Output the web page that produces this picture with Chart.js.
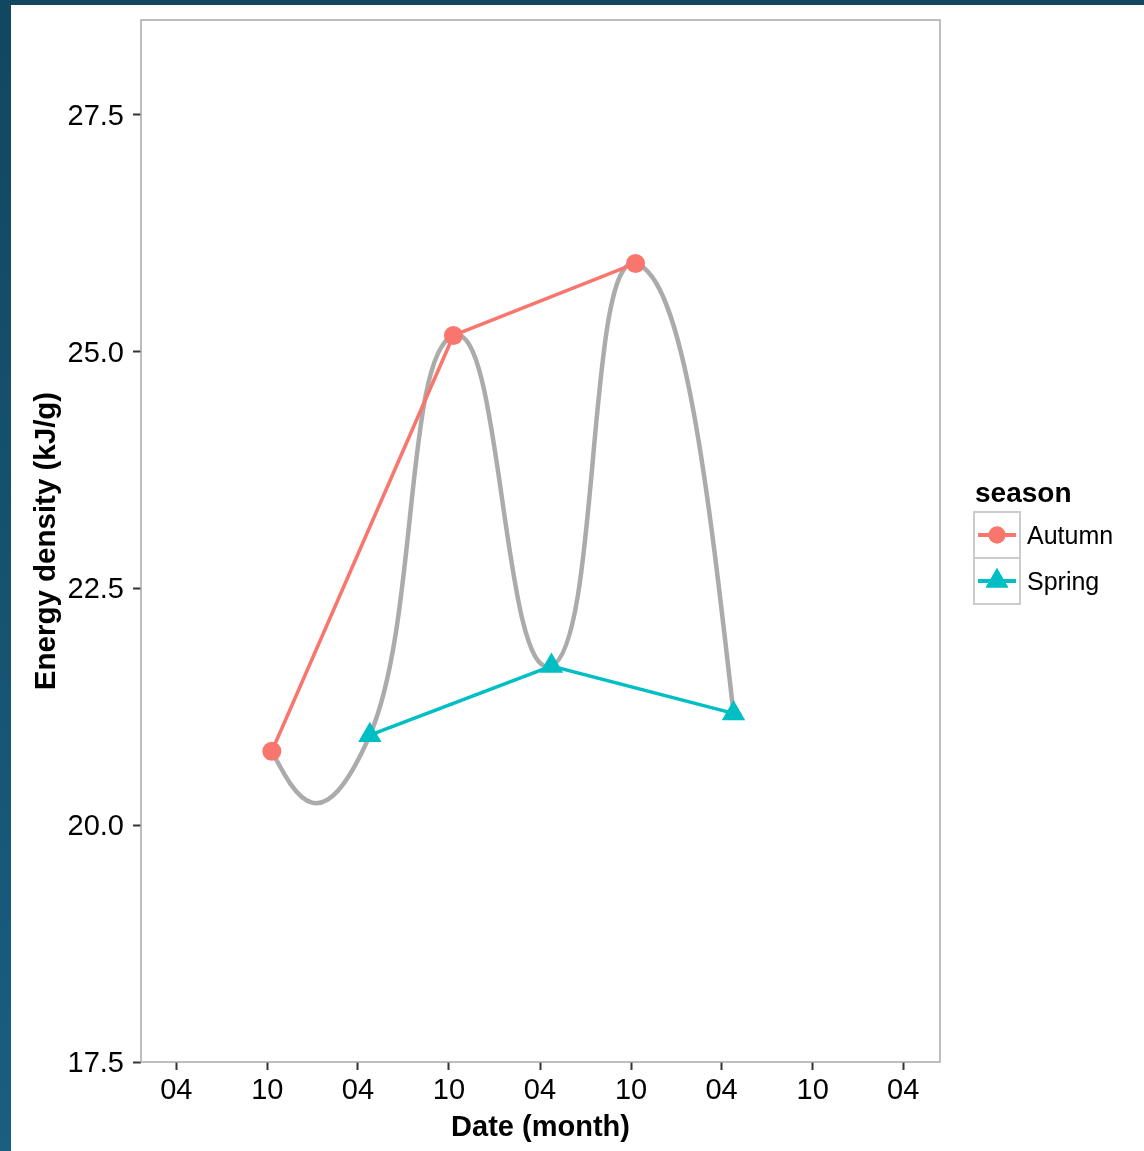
<!DOCTYPE html>
<html>
<head>
<meta charset="utf-8">
<title>Energy density by season</title>
<script src="https://cdn.jsdelivr.net/npm/chart.js@4.4.0/dist/chart.umd.min.js"></script>
<style>
  html, body { margin: 0; padding: 0; background: #ffffff; }
  #wrap { position: relative; width: 1144px; height: 1151px; overflow: hidden; background: #ffffff; }
  #frameTop { position: absolute; left: 0; top: 0; width: 1144px; height: 5px; background: #114760; }
  #frameSide { position: absolute; left: 0; top: 0; width: 11px; height: 1151px; background: linear-gradient(#114760, #1a5e80); }
  #chart { position: absolute; left: 0; top: 0; }
</style>
</head>
<body>
<div id="wrap">
  <div id="frameTop"></div>
  <div id="frameSide"></div>
  <canvas id="chart" width="1144" height="1151"></canvas>
</div>
<script>
// Sampling dates and energy density (kJ/g) per season
const autumnDates  = ['2010-10-10', '2011-10-10', '2012-10-10'];
const autumnValues = [20.78, 25.17, 25.93];
const springDates  = ['2011-04-25', '2012-04-24', '2013-04-25'];
const springValues = [20.95, 21.68, 21.18];

// Axis ticks
const xTickDates  = ['2010-04-01', '2010-10-01', '2011-04-01', '2011-10-01', '2012-04-01',
                     '2012-10-01', '2013-04-01', '2013-10-01', '2014-04-01'];
const xTickLabels = ['04', '10', '04', '10', '04', '10', '04', '10', '04'];
const yTickValues = [17.5, 20, 22.5, 25, 27.5];
const yTickLabels = ['17.5', '20.0', '22.5', '25.0', '27.5'];

const xLimits = ['2010-01-20', '2014-06-14'];
const yLimits = [17.5, 28.5];

const AUTUMN = '#F8766D';
const SPRING = '#00BFC4';
const FONT = '"Liberation Sans", Arial, sans-serif';

const dayNum = s => Date.parse(s + 'T00:00:00Z') / 86400000;
const toPoints = (dates, vals) => dates.map((d, i) => ({ x: dayNum(d), y: vals[i] }));

// Grey smooth path through all observations in date order:
// cardinal spline (interior tangents from neighbours, free ends) drawn as Bezier segments
const CURVE_TENSION = 0.8;
const smoothCurve = {
  id: 'smoothCurve',
  beforeDatasetsDraw(chart) {
    const xs = chart.scales.x, ys = chart.scales.y;
    const pts = toPoints(autumnDates, autumnValues).concat(toPoints(springDates, springValues))
      .sort((a, b) => a.x - b.x)
      .map(p => ({ x: xs.getPixelForValue(p.x), y: ys.getPixelForValue(p.y) }));
    const n = pts.length;
    const m = new Array(n);
    for (let i = 1; i < n - 1; i++) {
      m[i] = { x: CURVE_TENSION * (pts[i + 1].x - pts[i - 1].x), y: CURVE_TENSION * (pts[i + 1].y - pts[i - 1].y) };
    }
    m[0] = { x: (3 * (pts[1].x - pts[0].x) - m[1].x) / 2, y: (3 * (pts[1].y - pts[0].y) - m[1].y) / 2 };
    m[n - 1] = { x: (3 * (pts[n - 1].x - pts[n - 2].x) - m[n - 2].x) / 2,
                 y: (3 * (pts[n - 1].y - pts[n - 2].y) - m[n - 2].y) / 2 };
    const ctx = chart.ctx;
    ctx.save();
    ctx.beginPath();
    ctx.moveTo(pts[0].x, pts[0].y);
    for (let i = 0; i < n - 1; i++) {
      const p0 = pts[i], p1 = pts[i + 1], m0 = m[i], m1 = m[i + 1];
      ctx.bezierCurveTo(p0.x + m0.x / 3, p0.y + m0.y / 3,
                        p1.x - m1.x / 3, p1.y - m1.y / 3,
                        p1.x, p1.y);
    }
    ctx.strokeStyle = '#ababab';
    ctx.lineWidth = 4.5;
    ctx.lineJoin = 'round';
    ctx.stroke();
    ctx.restore();
  }
};

// Panel border
const panelBorder = {
  id: 'panelBorder',
  afterDatasetsDraw(chart) {
    const { left, top, right, bottom } = chart.chartArea;
    const ctx = chart.ctx;
    ctx.save();
    ctx.strokeStyle = '#a8a8a8';
    ctx.lineWidth = 1.5;
    ctx.strokeRect(left, top, right - left, bottom - top);
    ctx.restore();
  }
};

// Legend with keys drawn as line + marker
const seasonLegend = {
  id: 'seasonLegend',
  afterDraw(chart) {
    const ctx = chart.ctx;
    ctx.save();
    ctx.fillStyle = '#000';
    ctx.textBaseline = 'alphabetic';
    ctx.textAlign = 'left';
    ctx.font = 'bold 28px ' + FONT;
    ctx.fillText('season', 975, 502);

    const items = [
      { label: 'Autumn', color: AUTUMN, style: 'circle', radius: 8.5, cy: 535 },
      { label: 'Spring', color: SPRING, style: 'triangle', radius: 13, cy: 581 }
    ];
    items.forEach((it, i) => {
      const boxTop = 512 + i * 46;
      ctx.fillStyle = '#ffffff';
      ctx.fillRect(974, boxTop, 46, 46);
      ctx.strokeStyle = '#cccccc';
      ctx.lineWidth = 2;
      ctx.strokeRect(974, boxTop, 46, 46);
      ctx.strokeStyle = it.color;
      ctx.lineWidth = 4;
      ctx.beginPath();
      ctx.moveTo(978, it.cy);
      ctx.lineTo(1016, it.cy);
      ctx.stroke();
      ctx.fillStyle = it.color;
      Chart.helpers.drawPoint(ctx, { pointStyle: it.style, radius: it.radius, rotation: 0, borderWidth: 0 }, 997, it.cy);
      ctx.fill();
      ctx.fillStyle = '#000';
      ctx.font = '25px ' + FONT;
      ctx.textBaseline = 'middle';
      ctx.fillText(it.label, 1027, boxTop + 25);
      ctx.textBaseline = 'alphabetic';
    });
    ctx.restore();
  }
};

new Chart(document.getElementById('chart'), {
  type: 'line',
  data: {
    datasets: [
      {
        label: 'Autumn',
        data: toPoints(autumnDates, autumnValues),
        borderColor: AUTUMN,
        backgroundColor: AUTUMN,
        borderWidth: 3.5,
        pointStyle: 'circle',
        pointRadius: 9.5,
        pointBorderWidth: 0,
        pointHoverRadius: 9.5,
        tension: 0
      },
      {
        label: 'Spring',
        data: toPoints(springDates, springValues),
        borderColor: SPRING,
        backgroundColor: SPRING,
        borderWidth: 3.5,
        pointStyle: 'triangle',
        pointRadius: 13.5,
        pointBorderWidth: 0,
        pointHoverRadius: 13.5,
        tension: 0
      }
    ]
  },
  options: {
    responsive: false,
    animation: false,
    events: [],
    layout: { padding: { left: 0, top: 20, right: 204, bottom: 0 } },
    plugins: {
      legend: { display: false },
      tooltip: { enabled: false }
    },
    scales: {
      x: {
        type: 'linear',
        min: dayNum(xLimits[0]),
        max: dayNum(xLimits[1]),
        afterBuildTicks: axis => { axis.ticks = xTickDates.map(d => ({ value: dayNum(d) })); },
        afterFit: axis => { axis.height = 89; axis.paddingLeft = 0; axis.paddingRight = 0; },
        ticks: {
          autoSkip: false,
          maxRotation: 0,
          padding: 4,
          color: '#000',
          font: { family: FONT, size: 29 },
          callback: (v, i) => xTickLabels[i]
        },
        grid: { drawOnChartArea: false, drawTicks: true, tickLength: 8, tickWidth: 2, tickColor: '#333333' },
        border: { display: false },
        title: {
          display: true,
          text: 'Date (month)',
          color: '#000',
          font: { family: FONT, size: 29, weight: 'bold' },
          padding: { top: 0, bottom: 6 }
        }
      },
      y: {
        type: 'linear',
        min: yLimits[0],
        max: yLimits[1],
        afterBuildTicks: axis => { axis.ticks = yTickValues.map(v => ({ value: v })); },
        afterFit: axis => { axis.width = 141; axis.paddingTop = 0; axis.paddingBottom = 0; },
        ticks: {
          autoSkip: false,
          padding: 9,
          labelOffset: 2,
          color: '#000',
          font: { family: FONT, size: 29 },
          callback: (v, i) => yTickLabels[i]
        },
        grid: { drawOnChartArea: false, drawTicks: true, tickLength: 8, tickWidth: 2, tickColor: '#333333' },
        border: { display: false },
        title: {
          display: true,
          text: 'Energy density (kJ/g)',
          color: '#000',
          font: { family: FONT, size: 29.5, weight: 'bold' },
          padding: { top: 29, bottom: 0 }
        }
      }
    }
  },
  plugins: [smoothCurve, panelBorder, seasonLegend]
});
</script>
</body>
</html>
